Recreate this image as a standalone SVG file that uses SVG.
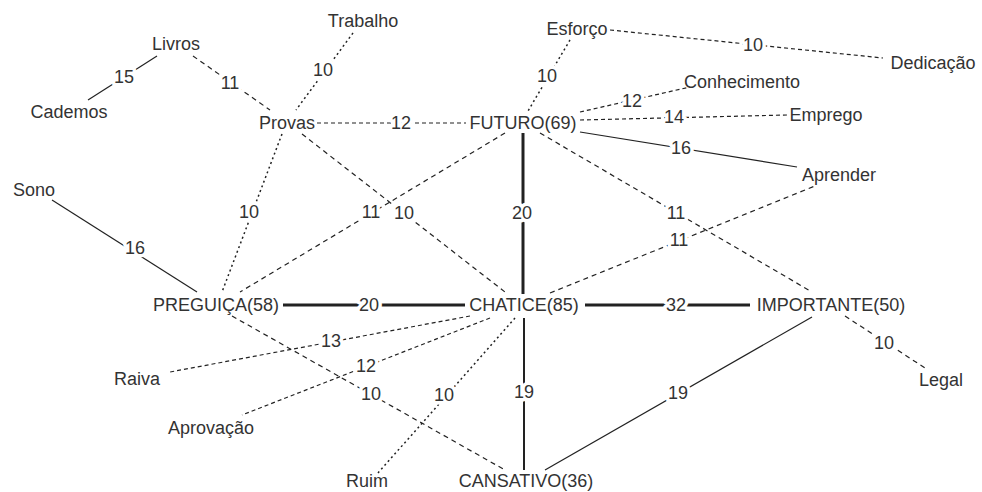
<svg xmlns="http://www.w3.org/2000/svg" width="982" height="492" viewBox="0 0 982 492">
<style>
.n{font-family:"Liberation Sans",Arial,sans-serif;font-size:18px;fill:#333;text-anchor:middle}
.l{font-family:"Liberation Sans",Arial,sans-serif;font-size:18px;fill:#333;text-anchor:middle;stroke:#fff;stroke-width:7;paint-order:stroke;stroke-linejoin:round}
line{stroke:#222;fill:none}
.thick{stroke-width:3}
.med{stroke-width:2}
.thin{stroke-width:1.2}
.dash{stroke-width:1.2;stroke-dasharray:5 4}
.sdash{stroke-width:1.2;stroke-dasharray:4 3}
.dot{stroke-width:1.5;stroke-dasharray:2 3}
</style>
<rect width="982" height="492" fill="#fff"/>
<g id="connectors">
<line class="thin" x1="157" y1="56" x2="88" y2="100"/>
<line class="dash" x1="193" y1="56" x2="270" y2="110"/>
<line class="dot" x1="353" y1="33" x2="296" y2="110"/>
<line class="dot" x1="282" y1="134" x2="222" y2="292"/>
<line class="sdash" x1="317" y1="123" x2="466" y2="123"/>
<line class="dash" x1="302" y1="134" x2="505" y2="292"/>
<line class="dash" x1="505" y1="133" x2="240" y2="292"/>
<line class="thick" x1="523" y1="133" x2="523" y2="294"/>
<line class="dot" x1="570" y1="40" x2="528" y2="111"/>
<line class="sdash" x1="610" y1="30" x2="883" y2="58"/>
<line class="sdash" x1="580" y1="112" x2="690" y2="87"/>
<line class="sdash" x1="580" y1="120" x2="787" y2="115"/>
<line class="thin" x1="580" y1="132" x2="797" y2="167"/>
<line class="dash" x1="540" y1="133" x2="812" y2="292"/>
<line class="dash" x1="550" y1="293" x2="815" y2="186"/>
<line class="thick" x1="283" y1="305" x2="465" y2="305"/>
<line class="thick" x1="585" y1="305" x2="750" y2="305"/>
<line class="thin" x1="52" y1="200" x2="197" y2="292"/>
<line class="dash" x1="232" y1="316" x2="505" y2="470"/>
<line class="sdash" x1="470" y1="316" x2="170" y2="372"/>
<line class="sdash" x1="490" y1="318" x2="242" y2="415"/>
<line class="dot" x1="515" y1="318" x2="378" y2="473"/>
<line class="med" x1="524" y1="318" x2="524" y2="470"/>
<line class="thin" x1="812" y1="317" x2="545" y2="470"/>
<line class="dash" x1="845" y1="316" x2="925" y2="368"/>
</g>
<g id="edge-labels">
<text class="l" x="124" y="83">15</text>
<text class="l" x="230" y="89">11</text>
<text class="l" x="323" y="76">10</text>
<text class="l" x="249" y="218">10</text>
<text class="l" x="401" y="129">12</text>
<text class="l" x="404" y="219">10</text>
<text class="l" x="371" y="218">11</text>
<text class="l" x="522" y="219">20</text>
<text class="l" x="547" y="82">10</text>
<text class="l" x="753" y="51">10</text>
<text class="l" x="632" y="107">12</text>
<text class="l" x="674" y="123">14</text>
<text class="l" x="681" y="154">16</text>
<text class="l" x="676" y="219">11</text>
<text class="l" x="679" y="246">11</text>
<text class="l" x="369" y="311">20</text>
<text class="l" x="676" y="311">32</text>
<text class="l" x="135" y="254">16</text>
<text class="l" x="371" y="400">10</text>
<text class="l" x="331" y="347">13</text>
<text class="l" x="366" y="372">12</text>
<text class="l" x="444" y="401">10</text>
<text class="l" x="524" y="398">19</text>
<text class="l" x="678" y="399">19</text>
<text class="l" x="884" y="349">10</text>
</g>
<g id="n-livros"><text class="n" x="176" y="50">Livros</text></g>
<g id="n-cademos"><text class="n" x="69" y="118">Cademos</text></g>
<g id="n-provas"><text class="n" x="287" y="129">Provas</text></g>
<g id="n-trabalho"><text class="n" x="363" y="27">Trabalho</text></g>
<g id="n-esforco"><text class="n" x="577" y="35">Esforço</text></g>
<g id="n-futuro"><text class="n" x="523" y="129">FUTURO(69)</text></g>
<g id="n-dedicacao"><text class="n" x="933" y="69">Dedicação</text></g>
<g id="n-conhecimento"><text class="n" x="742" y="88">Conhecimento</text></g>
<g id="n-emprego"><text class="n" x="826" y="121">Emprego</text></g>
<g id="n-aprender"><text class="n" x="839" y="181">Aprender</text></g>
<g id="n-sono"><text class="n" x="34" y="196">Sono</text></g>
<g id="n-preguica"><text class="n" x="216" y="311">PREGUIÇA(58)</text></g>
<g id="n-chatice"><text class="n" x="524" y="311">CHATICE(85)</text></g>
<g id="n-importante"><text class="n" x="831" y="311">IMPORTANTE(50)</text></g>
<g id="n-raiva"><text class="n" x="137" y="385">Raiva</text></g>
<g id="n-aprovacao"><text class="n" x="211" y="434">Aprovação</text></g>
<g id="n-ruim"><text class="n" x="367" y="487">Ruim</text></g>
<g id="n-cansativo"><text class="n" x="526" y="487">CANSATIVO(36)</text></g>
<g id="n-legal"><text class="n" x="941" y="386">Legal</text></g>
</svg>
